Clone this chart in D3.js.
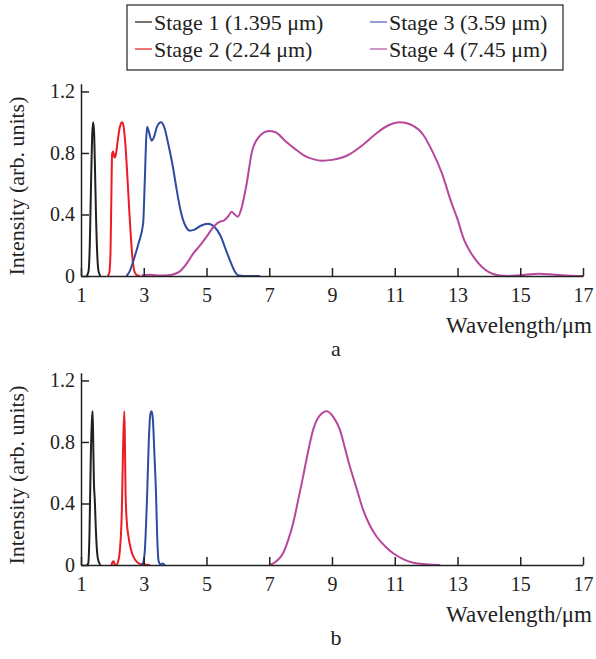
<!DOCTYPE html>
<html><head><meta charset="utf-8">
<script src="https://cdn.jsdelivr.net/npm/d3@7"></script>
<style>
html,body{margin:0;padding:0;background:#fff;}
svg text{font-family:"Liberation Serif","Tinos","DejaVu Serif","Noto Serif",serif;fill:#222;}
</style></head>
<body><svg id="c" width="596" height="659"></svg>
<script>
// ---- data ----
const seriesNames = ["Stage 1 (1.395 \u03bcm)", "Stage 2 (2.24 \u03bcm)", "Stage 3 (3.59 \u03bcm)", "Stage 4 (7.45 \u03bcm)"];
const seriesColors = ["#231f20", "#ec1c24", "#2e4b9f", "#b8479c"];
const legendColors = ["#444", "#e8474c", "#6a80c0", "#c070b4"];
const xTicks = [1, 3, 5, 7, 9, 11, 13, 15, 17];
const yTicks = [0, 0.4, 0.8, 1.2];
const yTickLabels = ["0", "0.4", "0.8", "1.2"];

// panel a
const a_stage1 = [[1.18,0],[1.24,0.03],[1.28,0.2],[1.32,0.6],[1.36,0.93],[1.39,1.0],[1.42,0.92],[1.45,0.66],[1.48,0.38],[1.52,0.13],[1.56,0.03],[1.62,0]];
const a_stage2 = [[1.85,0],[1.90,0.02],[1.94,0.15],[1.97,0.55],[1.99,0.79],[2.02,0.81],[2.07,0.77],[2.11,0.79],[2.17,0.88],[2.24,0.97],[2.31,1.0],[2.36,0.97],[2.42,0.84],[2.48,0.64],[2.54,0.42],[2.60,0.22],[2.66,0.08],[2.72,0.02],[2.80,0.003],[2.88,0]];
const a_stage3 = [[2.45,0],[2.55,0.03],[2.67,0.10],[2.83,0.21],[2.98,0.34],[3.03,0.6],[3.08,0.9],[3.11,0.97],[3.16,0.94],[3.25,0.88],[3.32,0.9],[3.42,0.97],[3.55,1.0],[3.65,0.97],[3.78,0.86],[3.92,0.72],[4.05,0.56],[4.18,0.42],[4.32,0.33],[4.47,0.295],[4.6,0.3],[4.8,0.325],[5.05,0.34],[5.25,0.32],[5.45,0.26],[5.6,0.18],[5.75,0.1],[5.9,0.03],[6.0,0.005],[6.2,0],[6.7,0]];
const a_stage4 = [[2.93,0.005],[3.2,0.008],[3.5,0.003],[3.8,0.005],[4.0,0.015],[4.15,0.03],[4.4,0.09],[4.58,0.147],[4.8,0.2],[5.0,0.255],[5.27,0.33],[5.45,0.355],[5.55,0.36],[5.7,0.39],[5.8,0.418],[5.9,0.40],[6.0,0.385],[6.1,0.43],[6.28,0.60],[6.44,0.80],[6.65,0.90],[6.99,0.943],[7.2,0.935],[7.5,0.88],[7.8,0.83],[8.1,0.785],[8.4,0.76],[8.7,0.75],[9.0,0.755],[9.5,0.785],[10.0,0.855],[10.4,0.925],[10.8,0.98],[11.16,1.0],[11.5,0.985],[11.9,0.92],[12.2,0.81],[12.5,0.67],[12.8,0.48],[13.0,0.37],[13.2,0.24],[13.4,0.16],[13.6,0.1],[13.8,0.055],[14.0,0.025],[14.3,0.005],[14.6,0],[15.0,0.005],[15.6,0.015],[16.1,0.008],[16.6,0.002],[17.0,0]];

// panel b
const b_stage1 = [[1.18,0],[1.23,0.01],[1.27,0.2],[1.31,0.68],[1.35,0.95],[1.37,1.0],[1.39,0.8],[1.41,0.55],[1.44,0.42],[1.47,0.25],[1.5,0.12],[1.55,0.03],[1.62,0]];
const b_stage2 = [[1.97,0],[2.01,0.02],[2.04,0.025],[2.07,0.005],[2.12,0],[2.18,0.02],[2.24,0.1],[2.30,0.34],[2.34,0.75],[2.38,1.0],[2.40,0.8],[2.42,0.47],[2.46,0.28],[2.51,0.19],[2.58,0.11],[2.67,0.054],[2.78,0.02],[2.88,0.007],[3.0,0.004],[3.2,0]];
const b_stage3 = [[2.9,0],[2.97,0.01],[3.03,0.08],[3.08,0.3],[3.11,0.47],[3.16,0.8],[3.21,0.98],[3.25,1.0],[3.29,0.95],[3.34,0.72],[3.39,0.47],[3.43,0.18],[3.47,0.03],[3.52,0.005],[3.6,0.01],[3.67,0]];
const b_stage4 = [[7.0,0],[7.2,0.02],[7.44,0.076],[7.6,0.16],[7.76,0.27],[7.92,0.42],[8.08,0.576],[8.24,0.74],[8.40,0.88],[8.6,0.97],[8.84,1.0],[9.05,0.96],[9.25,0.88],[9.4,0.77],[9.57,0.64],[9.78,0.5],[9.99,0.36],[10.2,0.26],[10.42,0.185],[10.7,0.12],[10.95,0.076],[11.3,0.035],[11.59,0.015],[12.0,0.005],[12.45,0]];

const xLabel = "Wavelength/\u03bcm";
const yLabel = "Intensity (arb. units)";
const panelLabels = ["a", "b"];

// ---- drawing ----
const svg = d3.select("#c");
const TICK_FS = 20, TITLE_FS = 22, XLAB_FS = 23, LEG_FS = 22;

function panel(series, y0, letter) {
  const x = d3.scaleLinear().domain([1, 17]).range([81, 583]);
  const y = d3.scaleLinear().domain([0, 1.25]).range([y0, y0 - 1.25 * 153.8]);
  const g = svg.append("g");
  const line = d3.line().x(d => x(d[0])).y(d => y(d[1])).curve(d3.curveMonotoneX);
  series.forEach((s, i) => {
    g.append("path").attr("d", line(s)).attr("fill", "none")
      .attr("stroke", seriesColors[i]).attr("stroke-width", 2).attr("stroke-linejoin", "round");
  });
  const xa = g.append("g").attr("transform", `translate(0,${y0})`)
    .call(d3.axisBottom(x).tickValues(xTicks).tickSize(-8).tickSizeOuter(0).tickPadding(12).tickFormat(d3.format("d")));
  const ya = g.append("g").attr("transform", "translate(81,0)")
    .call(d3.axisLeft(y).tickValues(yTicks).tickSize(-8).tickSizeOuter(0).tickPadding(6).tickFormat((d, i) => yTickLabels[i]));
  [xa, ya].forEach(a => {
    a.attr("font-family", null);
    a.selectAll("path,line").attr("stroke", "#222").attr("stroke-width", 1.5);
    a.selectAll("text").attr("font-size", TICK_FS).attr("fill", "#222");
  });
  g.append("text").attr("x", 592).attr("y", y0 + 57).attr("text-anchor", "end")
    .attr("font-size", XLAB_FS).text(xLabel);
  g.append("text").attr("x", 336).attr("y", y0 + 80).attr("text-anchor", "middle")
    .attr("font-size", TITLE_FS).text(letter);
  g.append("text").attr("transform", `translate(24,${y0 - 90}) rotate(-90)`).attr("text-anchor", "middle")
    .attr("font-size", TITLE_FS).text(yLabel);
}

panel([a_stage1, a_stage2, a_stage3, a_stage4], 276, panelLabels[0]);
panel([b_stage1, b_stage2, b_stage3, b_stage4], 565, panelLabels[1]);

// legend
const lg = svg.append("g");
lg.append("rect").attr("x", 127).attr("y", 5).attr("width", 436).attr("height", 65)
  .attr("fill", "#fff").attr("stroke", "#222").attr("stroke-width", 1.2);
const legPos = [[135, 30], [135, 57], [370, 30], [370, 57]];
seriesNames.forEach((n, i) => {
  const [lx, ly] = legPos[i];
  lg.append("line").attr("x1", lx).attr("x2", lx + 17).attr("y1", ly - 8).attr("y2", ly - 8)
    .attr("stroke", legendColors[i]).attr("stroke-width", 1.5);
  lg.append("text").attr("x", lx + 19).attr("y", ly).attr("font-size", LEG_FS).text(n);
});
</script></body></html>
